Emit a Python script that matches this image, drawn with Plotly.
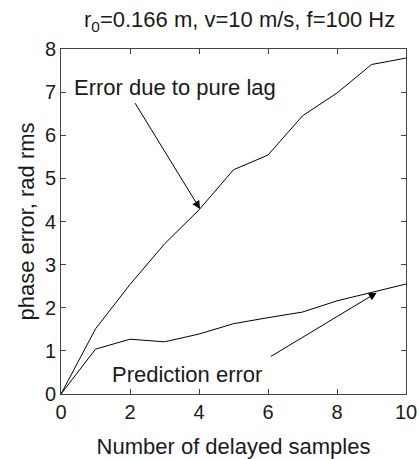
import plotly.graph_objects as go

samples = [0, 1, 2, 3, 4, 5, 6, 7, 8, 9, 10]
lag_error = [0, 1.51, 2.54, 3.48, 4.27, 5.2, 5.54, 6.45, 6.98, 7.64, 7.79]
pred_error = [0, 1.04, 1.27, 1.21, 1.39, 1.63, 1.77, 1.90, 2.16, 2.35, 2.55]
x_ticks = [0, 2, 4, 6, 8, 10]
y_ticks = [0, 1, 2, 3, 4, 5, 6, 7, 8]

FONT = "Liberation Sans"
TXT = "#1a1a1a"

fig = go.Figure()
fig.add_trace(go.Scatter(x=samples, y=lag_error, mode="lines",
                         line=dict(color="black", width=1), showlegend=False))
fig.add_trace(go.Scatter(x=samples, y=pred_error, mode="lines",
                         line=dict(color="black", width=1), showlegend=False))

axis_common = dict(showgrid=False, zeroline=False, showline=True, linecolor="#444",
                   linewidth=1, mirror="ticks", ticks="inside", ticklen=5,
                   tickcolor="#444", tickfont=dict(family=FONT, size=20, color=TXT),
                   automargin=False)

fig.update_xaxes(range=[0, 10], tickvals=x_ticks,
                 title=dict(text="Number of delayed samples",
                            font=dict(family=FONT, size=22, color=TXT), standoff=16),
                 **axis_common)
fig.update_yaxes(range=[0, 8], tickvals=y_ticks,
                 title=dict(text="phase error, rad rms",
                            font=dict(family=FONT, size=22, color=TXT), standoff=4),
                 **axis_common)

fig.add_annotation(x=4.03, y=4.29, ax=2.12, ay=6.78, xref="x", yref="y",
                   axref="x", ayref="y", text="", showarrow=True,
                   arrowhead=2, arrowsize=1.6, arrowwidth=1, arrowcolor="black")
fig.add_annotation(x=9.15, y=2.35, ax=6.04, ay=0.85, xref="x", yref="y",
                   axref="x", ayref="y", text="", showarrow=True,
                   arrowhead=2, arrowsize=1.6, arrowwidth=1, arrowcolor="black")

fig.add_annotation(x=0.33, y=7.1, xref="x", yref="y", text="Error due to pure lag",
                   showarrow=False, xanchor="left", yanchor="middle",
                   font=dict(family=FONT, size=22, color=TXT))
fig.add_annotation(x=1.42, y=0.45, xref="x", yref="y", text="Prediction error",
                   showarrow=False, xanchor="left", yanchor="middle",
                   font=dict(family=FONT, size=22, color=TXT))

fig.add_annotation(x=0.5, y=1.0, xref="paper", yref="paper", yshift=28, xshift=6,
                   text="r<sub>0</sub>=0.166 m, v=10 m/s, f=100 Hz",
                   showarrow=False, xanchor="center", yanchor="middle",
                   font=dict(family=FONT, size=22, color=TXT))

fig.update_layout(
    width=419, height=459,
    margin=dict(l=61, r=13, t=49, b=65),
    paper_bgcolor="white", plot_bgcolor="white",
)

fig.write_html("out.html")
